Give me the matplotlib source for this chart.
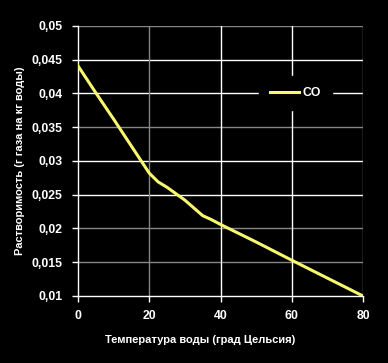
import matplotlib.pyplot as plt
from matplotlib.ticker import FuncFormatter

temps = [0, 5, 10, 15, 20, 22.5, 25, 30, 35, 37.5, 40, 50, 60, 80]
co = [0.0441, 0.0401, 0.0362, 0.0322, 0.0282, 0.0269, 0.0261, 0.0242,
      0.0219, 0.0213, 0.0206, 0.0180, 0.0153, 0.0100]

x_ticks = [0, 20, 40, 60, 80]
y_ticks = [0.01, 0.015, 0.02, 0.025, 0.03, 0.035, 0.04, 0.045, 0.05]
white_y = [0.025, 0.03, 0.04, 0.045]
gray_y = [0.015, 0.02, 0.035, 0.05]
white_x = [40, 60]
gray_x = [20, 80]

plt.rcParams['font.family'] = ['Liberation Sans', 'DejaVu Sans']

fig = plt.figure(figsize=(3.88, 3.63), dpi=100, facecolor='black')
ax = fig.add_axes([0.201, 0.1846, 0.7346, 0.7438], facecolor='black')

for y in white_y:
    ax.axhline(y, color='white', lw=1.0, zorder=1)
for y in gray_y:
    ax.axhline(y, color='#858585', lw=1.0, zorder=1)
for x in white_x:
    ax.axvline(x, color='white', lw=1.0, zorder=1)
for x in gray_x:
    ax.axvline(x, color='#858585', lw=1.0, zorder=1)

ax.plot(temps, co, color='#F8F870', lw=2.2, label='CO', zorder=3,
        solid_joinstyle='round')

ax.set_xlim(0, 80)
ax.set_ylim(0.01, 0.05)
ax.set_xticks(x_ticks)
ax.set_yticks(y_ticks)
ax.yaxis.set_major_formatter(FuncFormatter(lambda v, p: ('%g' % round(v, 3)).replace('.', ',')))

for side in ['top', 'right']:
    ax.spines[side].set_visible(False)
for side in ['left', 'bottom']:
    ax.spines[side].set_color('white')
    ax.spines[side].set_linewidth(1.0)

ax.tick_params(colors='white', length=4, width=1.0, labelsize=8.8)
ax.tick_params(axis='y', pad=7)
ax.tick_params(axis='x', pad=6)
for lab in ax.get_xticklabels() + ax.get_yticklabels():
    lab.set_fontweight('bold')

ax.set_xlabel('Температура воды (град Цельсия)', color='white',
              fontsize=8, fontweight='bold', va='center')
ax.set_ylabel('Растворимость (г газа на кг воды)', color='white',
              fontsize=8, fontweight='bold', va='center')
ax.xaxis.set_label_coords(0.428, -0.163)
ax.yaxis.set_label_coords(-0.2035, 0.5)

leg = ax.legend(loc='center', bbox_to_anchor=(0.763, 0.75), frameon=True,
                facecolor='black', edgecolor='black', framealpha=1,
                handlelength=2.4, handletextpad=0.3, borderpad=0.9,
                prop={'weight': 'bold', 'size': 8.8})
for t in leg.get_texts():
    t.set_color('white')
leg.set_zorder(4)

fig.savefig('out.png', dpi=100, facecolor='black')
